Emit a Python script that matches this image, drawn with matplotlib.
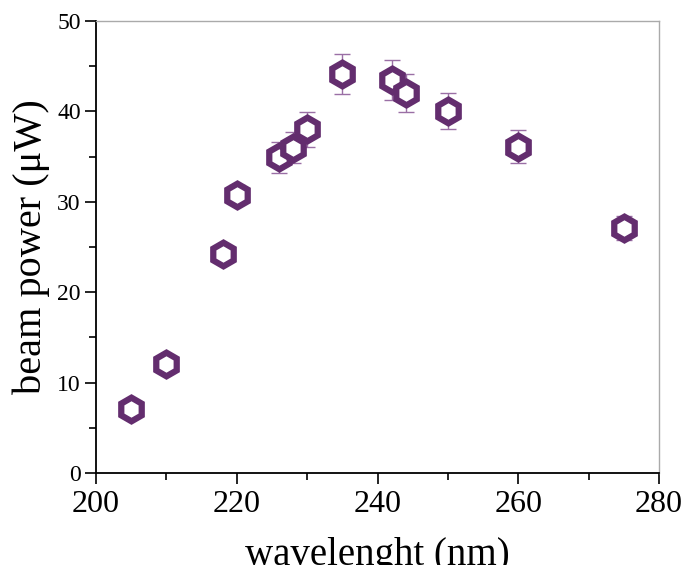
import numpy as np
import matplotlib.pyplot as plt
from matplotlib.ticker import MultipleLocator

wavelength = [205, 210, 218, 220, 226, 228, 230, 235, 242, 244, 250, 260, 275]
power = [7.1, 12.0, 24.2, 30.8, 34.9, 36.0, 38.0, 44.1, 43.5, 42.0, 40.0, 36.1, 27.1]
power_err = [0.5, 0.5, 0.8, 1.1, 1.75, 1.75, 1.9, 2.2, 2.2, 2.1, 2.0, 1.8, 1.3]

plt.rcParams['font.family'] = ['Liberation Serif', 'DejaVu Serif']
plt.rcParams['mathtext.fontset'] = 'stix'

fig = plt.figure(figsize=(6.86, 5.65), dpi=100)
ax = fig.add_axes([0.14, 0.163, 0.8206, 0.7998])

ax.errorbar(wavelength, power, yerr=power_err, fmt='none',
            ecolor='#9a6fa5', elinewidth=1.0, capsize=6, capthick=1.0, zorder=2)
ax.plot(wavelength, power, linestyle='none', marker='h', markersize=17,
        markerfacecolor='white', markeredgecolor='#632D6E', markeredgewidth=4.5,
        zorder=3)

ax.set_xlim(200, 280)
ax.set_ylim(0, 50)
ax.xaxis.set_major_locator(MultipleLocator(20))
ax.xaxis.set_minor_locator(MultipleLocator(10))
ax.yaxis.set_major_locator(MultipleLocator(10))
ax.yaxis.set_minor_locator(MultipleLocator(5))

ax.tick_params(axis='x', which='major', direction='out', length=8, width=1.2,
               labelsize=23, pad=4, top=False)
ax.tick_params(axis='y', which='major', direction='out', length=8, width=1.2,
               labelsize=17, pad=3, right=False)
ax.tick_params(which='minor', direction='out', length=5, width=1.2,
               top=False, right=False)

for side in ['left', 'bottom']:
    ax.spines[side].set_linewidth(1.3)
    ax.spines[side].set_color('black')
for side in ['top', 'right']:
    ax.spines[side].set_linewidth(1.0)
    ax.spines[side].set_color('#aaaaaa')

ax.set_xlabel('wavelenght (nm)', fontsize=28, labelpad=13)
ax.set_ylabel('beam power (μW)', fontsize=29, labelpad=5)

fig.savefig('out.png', dpi=100)
